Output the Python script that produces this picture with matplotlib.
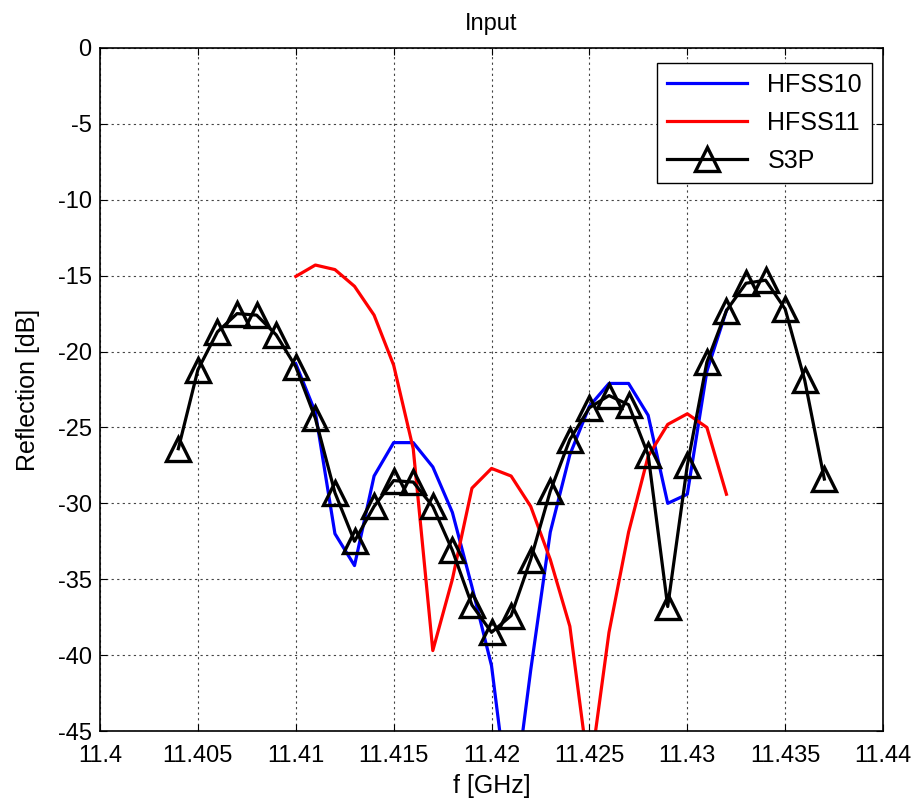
import matplotlib
matplotlib.use("Agg")
from matplotlib import pyplot as plt
from matplotlib.ticker import FormatStrFormatter
import numpy as np

plt.rcParams['font.family'] = ['Liberation Sans', 'DejaVu Sans']
plt.rcParams['axes.unicode_minus'] = False

# frequency grids [GHz]
f_hfss = [11.410, 11.411, 11.412, 11.413, 11.414, 11.415, 11.416, 11.417,
          11.418, 11.419, 11.420, 11.421, 11.422, 11.423, 11.424, 11.425,
          11.426, 11.427, 11.428, 11.429, 11.430, 11.431, 11.432]
f_s3p = [11.404, 11.405, 11.406, 11.407, 11.408, 11.409, 11.410, 11.411,
         11.412, 11.413, 11.414, 11.415, 11.416, 11.417, 11.418, 11.419,
         11.420, 11.421, 11.422, 11.423, 11.424, 11.425, 11.426, 11.427,
         11.428, 11.429, 11.430, 11.431, 11.432, 11.433, 11.434, 11.435,
         11.436, 11.437]

# reflection [dB]
hfss10 = [-20.8, -24.0, -32.0, -34.1, -28.2, -26.0, -26.0, -27.6,
          -30.6, -35.5, -40.7, -51.0, -41.0, -31.9, -26.8, -23.6,
          -22.1, -22.1, -24.2, -30.0, -29.4, -21.3, -17.3]
hfss11 = [-15.05, -14.3, -14.6, -15.7, -17.6, -20.9, -26.4, -39.7,
          -35.0, -29.0, -27.7, -28.2, -30.2, -33.7, -38.1, -48.0,
          -38.5, -31.9, -26.9, -24.8, -24.1, -25.0, -29.4]
s3p = [-26.4, -21.2, -18.7, -17.5, -17.6, -18.9, -21.0, -24.4,
       -29.3, -32.5, -30.2, -28.5, -28.6, -30.2, -33.1, -36.7,
       -38.5, -37.4, -33.7, -29.2, -25.8, -23.7, -22.9, -23.5,
       -26.8, -36.8, -27.5, -20.7, -17.3, -15.5, -15.3, -17.2,
       -21.9, -28.4]

fig = plt.figure(figsize=(9.21, 8.05), dpi=100)
ax = fig.add_axes([0.1086, 0.0919, 0.8502, 0.8485])

ax.plot(f_hfss, hfss10, color='#0000ff', lw=2.3, label='HFSS10')
ax.plot(f_hfss, hfss11, color='#ff0000', lw=2.3, label='HFSS11')
ax.plot(f_s3p, s3p, color='black', lw=2.3, marker='^', ms=17,
        mfc='none', mec='black', mew=2.4, label='S3P')

ax.set_xlim(11.4, 11.44)
ax.set_ylim(-45, 0)
ax.set_xticks(np.arange(11.4, 11.4401, 0.005))
ax.set_yticks(np.arange(-45, 0.1, 5))
ax.xaxis.set_major_formatter(FormatStrFormatter('%g'))
ax.yaxis.set_major_formatter(FormatStrFormatter('%g'))
ax.tick_params(direction='in', top=True, right=True, length=5,
               width=0.8, labelsize=17)
ax.tick_params(axis='x', pad=10)
ax.tick_params(axis='y', pad=6)
ax.grid(True, linestyle=(0, (2, 3)), color='#444444', linewidth=0.8)
for s in ax.spines.values():
    s.set_linewidth(1.2)

ax.set_xlabel('f [GHz]', fontsize=18, labelpad=5)
ax.set_ylabel('Reflection [dB]', fontsize=18, labelpad=13)
ax.set_title('Input', fontsize=17,
             family=['Liberation Sans Narrow', 'Liberation Sans'], pad=13)

leg = ax.legend(loc='upper right', bbox_to_anchor=(0.986, 0.978),
                borderaxespad=0, fontsize=18, fancybox=False,
                framealpha=1, edgecolor='black', handlelength=3.2,
                labelspacing=0.55)
leg.get_frame().set_linewidth(1.0)

fig.savefig('out.png', dpi=100)
